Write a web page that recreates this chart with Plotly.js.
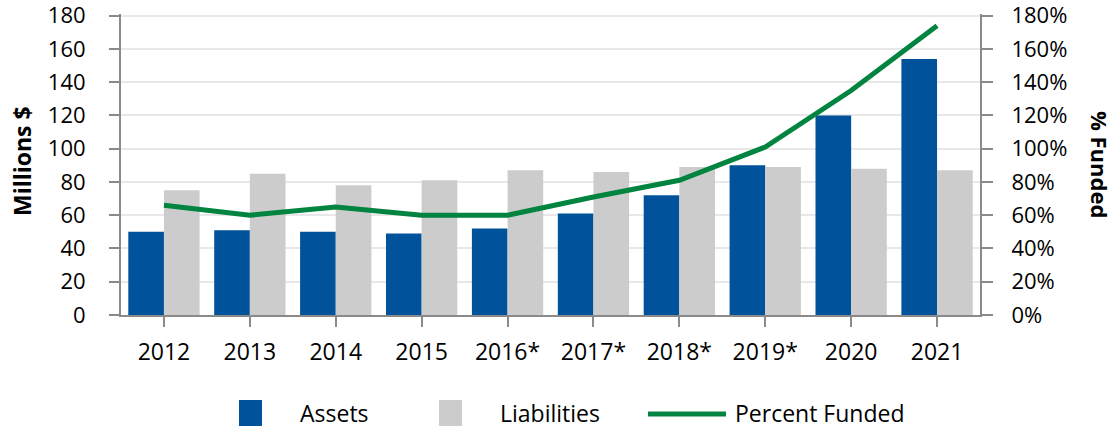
<!DOCTYPE html>
<html>
<head>
<meta charset="utf-8">
<script src="https://cdn.plot.ly/plotly-3.0.1.min.js"></script>
<style>html,body{margin:0;padding:0;background:#fff;}#chart{width:1117px;height:430px;}</style>
</head>
<body>
<div id="chart"></div>
<script>
const categories = ["2012","2013","2014","2015","2016*","2017*","2018*","2019*","2020","2021"];
const assets = [50, 51, 50, 49, 52, 61, 72, 90, 120, 154];
const liabilities = [75, 85, 78, 81, 87, 86, 89, 89, 88, 87];
const percentFunded = [66, 60, 65, 60, 60, 71, 81, 101, 135, 174];
const leftTicks = [0,20,40,60,80,100,120,140,160,180];
const rightTicks = [0,20,40,60,80,100,120,140,160,180];

const BLUE = "#00539b", GRAY = "#cccccc", GREEN = "#00843f", AXIS = "#8a8a8a";
const FONT = "Open Sans, Noto Sans, sans-serif";
const TXT = "#000";

const traces = [
  {type:"bar", name:"Assets", x:categories, y:assets, marker:{color:BLUE}, showlegend:false, hoverinfo:"x+y"},
  {type:"bar", name:"Liabilities", x:categories, y:liabilities, marker:{color:GRAY}, showlegend:false, hoverinfo:"x+y"},
  {type:"scatter", mode:"lines", name:"Percent Funded", x:categories, y:percentFunded, yaxis:"y2",
   line:{color:GREEN, width:5}, showlegend:false}
];

const W = 1117, H = 430, L = 121, R = 137, T = 14, B = 115;
const pw = W - L - R, ph = H - T - B;
const px = v => (v - L) / pw;
const py = v => (H - B - v) / ph;
const YMAX = 181;

const layout = {
  width: W, height: H,
  margin: {l: L, r: R, t: T, b: B, pad: 0},
  paper_bgcolor: "#fff", plot_bgcolor: "#fff",
  barmode: "group", bargap: 0.17, bargroupgap: 0,
  font: {family: FONT, color: TXT, size: 23},
  xaxis: {
    type: "category", range: [-0.5, 9.5],
    showline: true, linecolor: AXIS, linewidth: 2,
    ticks: "outside", ticklen: 10, tickwidth: 2, tickcolor: AXIS,
    tickfont: {family: FONT, size: 23, color: TXT},
    ticklabelstandoff: 5,
    showgrid: false, zeroline: false, fixedrange: true
  },
  yaxis: {
    range: [0, YMAX], tickvals: leftTicks, ticktext: leftTicks.map(String),
    showline: true, linecolor: AXIS, linewidth: 2,
    ticks: "outside", ticklen: 10, tickwidth: 2, tickcolor: AXIS,
    tickfont: {family: FONT, size: 22, color: TXT},
    ticklabelstandoff: 19, ticklabeloverflow: "allow",
    showgrid: true, gridcolor: "#e8e8e8", gridwidth: 2,
    zeroline: false, fixedrange: true
  },
  yaxis2: {
    overlaying: "y", side: "right", range: [0, YMAX],
    tickvals: rightTicks, ticktext: rightTicks.map(v => v + "%"),
    showline: true, linecolor: AXIS, linewidth: 2,
    ticks: "outside", ticklen: 11, tickwidth: 2, tickcolor: AXIS,
    tickfont: {family: FONT, size: 22, color: TXT},
    ticklabelstandoff: 14, ticklabeloverflow: "allow",
    showgrid: false, zeroline: false, fixedrange: true
  },
  shapes: [
    {type:"rect", xref:"paper", yref:"paper", x0:px(239), x1:px(262), y0:py(400), y1:py(426), fillcolor:BLUE, line:{width:0}},
    {type:"rect", xref:"paper", yref:"paper", x0:px(439), x1:px(462), y0:py(400), y1:py(426), fillcolor:GRAY, line:{width:0}},
    {type:"line", xref:"paper", yref:"paper", x0:px(648), x1:px(726), y0:py(414), y1:py(414), line:{color:GREEN, width:5}}
  ],
  annotations: [
    {text:"<b>Millions $</b>", xref:"paper", yref:"paper", x:px(22), y:py(161), textangle:-90,
     showarrow:false, xanchor:"center", yanchor:"middle", font:{family:FONT, size:23, color:TXT}},
    {text:"<b>% Funded</b>", xref:"paper", yref:"paper", x:px(1100), y:py(164), textangle:90,
     showarrow:false, xanchor:"center", yanchor:"middle", font:{family:FONT, size:22, color:TXT}},
    {text:"Assets", xref:"paper", yref:"paper", x:px(298), y:py(413), showarrow:false, xanchor:"left", yanchor:"middle", font:{family:FONT, size:23, color:TXT}},
    {text:"Liabilities", xref:"paper", yref:"paper", x:px(498), y:py(413), showarrow:false, xanchor:"left", yanchor:"middle", font:{family:FONT, size:23, color:TXT}},
    {text:"Percent Funded", xref:"paper", yref:"paper", x:px(733), y:py(413), showarrow:false, xanchor:"left", yanchor:"middle", font:{family:FONT, size:23, color:TXT}}
  ]
};

Plotly.newPlot("chart", traces, layout, {displayModeBar:false, staticPlot:true});
</script>
</body>
</html>
